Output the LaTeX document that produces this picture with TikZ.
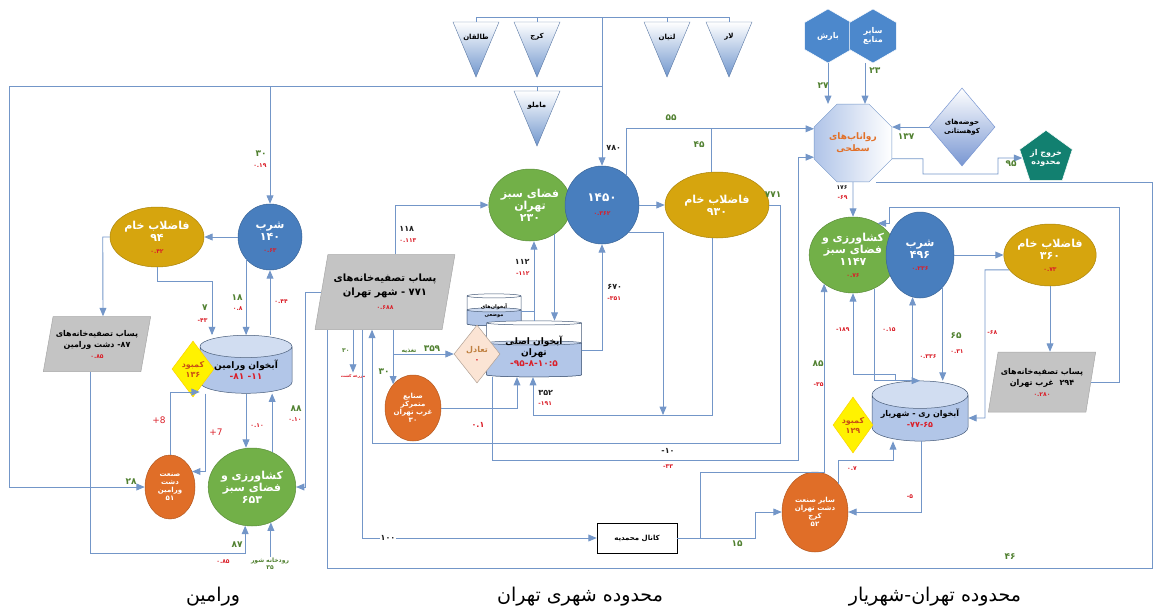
\documentclass[tikz,border=0pt]{standalone}
\usepackage{fontspec}
\setmainfont{DejaVu Sans}[Script=Arabic]
\usepackage{tikz}
\usetikzlibrary{shapes.geometric, arrows, positioning}
\TeXXeTstate=1
\newcommand{\fatxt}[1]{\beginR #1\endR}
\newcommand{\rv}[1]{{\color{numr}\fontsize{6}{7}\selectfont #1}}

\definecolor{lnc}{RGB}{115,150,200}
\definecolor{bluec}{RGB}{72,126,190}
\definecolor{greenc}{RGB}{114,176,72}
\definecolor{goldc}{RGB}{214,165,14}
\definecolor{orc}{RGB}{224,110,40}
\definecolor{grayc}{RGB}{196,196,196}
\definecolor{aqc}{RGB}{178,198,232}
\definecolor{tealc}{RGB}{18,128,112}
\definecolor{hexc}{RGB}{76,136,204}
\definecolor{tric}{RGB}{112,150,205}
\definecolor{octb}{RGB}{176,196,232}
\definecolor{dmc}{RGB}{120,150,210}
\definecolor{peach}{RGB}{251,228,212}
\definecolor{lackc}{RGB}{200,80,20}
\definecolor{octt}{RGB}{226,112,40}
\definecolor{numg}{RGB}{80,128,48}
\definecolor{numr}{RGB}{218,30,40}
\definecolor{numk}{RGB}{30,30,30}

\tikzset{
  bub/.style={ellipse, fill=#1, draw=#1!80!black, line width=0.5pt, text=white,
    align=center, inner sep=0pt, font=\fontsize{11}{12}\selectfont\bfseries},
  smallbub/.style={bub=#1, font=\fontsize{7}{8}\selectfont\bfseries},
  pbox/.style={trapezium, trapezium left angle=72, trapezium right angle=108,
    trapezium stretches=true, fill=grayc, draw=grayc!85!black, line width=0.5pt,
    text=black, align=center, inner sep=0pt, font=\fontsize{8}{11}\selectfont\bfseries},
  aqf/.style={cylinder, shape border rotate=90, aspect=0.35, draw=lnc!60!black,
    line width=0.5pt, cylinder uses custom fill, cylinder body fill=#1,
    cylinder end fill=#1!60!white, text=black, align=center, inner sep=0pt},
  lack/.style={diamond, fill=yellow, draw=yellow!70!orange, line width=0.5pt,
    text=lackc, align=center, inner sep=0pt, font=\fontsize{8}{10}\selectfont\bfseries},
  hexa/.style={regular polygon, regular polygon sides=6, shape border rotate=30,
    minimum size=54, fill=hexc, draw=white, line width=0.5pt, text=white,
    align=center, inner sep=0pt, font=\fontsize{8}{9}\selectfont\bfseries},
  srct/.style={text=black, inner sep=0pt, font=\fontsize{7}{8}\selectfont\bfseries},
  gn/.style={text=numg, inner sep=1pt, font=\fontsize{9}{9}\selectfont\bfseries},
  gns/.style={text=numg, inner sep=1pt, font=\fontsize{6}{7}\selectfont\bfseries},
  rd/.style={text=numr, inner sep=1pt, font=\fontsize{6}{6}\selectfont\bfseries},
  rdl/.style={text=numr, inner sep=1pt, font=\fontsize{9}{9}\selectfont},
  bk/.style={text=numk, inner sep=1pt, font=\fontsize{8}{8}\selectfont\bfseries},
  bks/.style={text=numk, inner sep=1pt, font=\fontsize{6}{6}\selectfont\bfseries},
  ttl/.style={text=black, font=\fontsize{19}{22}\selectfont}
}

\begin{document}
\begin{tikzpicture}[x=1pt, y=-1pt, ->, >=triangle 45, line width=0.9pt, lnc]
\useasboundingbox (0,0) rectangle (1156,613);

% sources
\foreach \n/\x/\y/\t in {tq/476/17/طالقان, kj/537/17/کرج, lt/667/17/لتیان, lr/729/17/لار, ml/537/86/ماملو}{
  \shade[-, top color=white, bottom color=tric, draw=tric!80!black, line width=0.4pt]
    (\x-23,\y+5) -- (\x+23,\y+5) -- (\x,\y+60) -- cycle;
  \node[srct] (\n) at (\x,\y+20) {\fatxt{\t}};
  \draw[-] (\x,\y) -- (\x,\y+5);
}
\coordinate (j1) at (602,17);
\coordinate (j2) at (602,86);
\coordinate (j3) at (270,86);

% varamin
\node[bub=bluec, minimum width=64, minimum height=66] (v1) at (270,237) {\fatxt{شرب}\\۱۴۰\\\rv{۰.۶۳}};
\node[bub=goldc, minimum width=94, minimum height=60] (v2) at (157,237) {\fatxt{فاضلاب خام}\\۹۴\\\rv{۰.۴۲}};
\node[pbox, minimum width=108, minimum height=55] (v3) at (97,344) {\fatxt{پساب تصفیه^^^^200cخانه^^^^200cهای}\\\fatxt{دشت ورامین} ۸۷-\\\rv{۰.۸۵}};
\node[aqf=aqc, minimum width=92, minimum height=58, font=\fontsize{9}{11}\selectfont\bfseries] (c1) at (246,370) {\fatxt{آبخوان ورامین}\\{\color{numr}\fatxt{۱۱- ۸۱-}}};
\node[lack, minimum width=42, minimum height=56] (d1) at (193,369) {\fatxt{کمبود}\\۱۳۶};
\node[smallbub=orc, minimum width=50, minimum height=64] (v4) at (170,487) {\fatxt{صنعت}\\\fatxt{دشت}\\\fatxt{ورامین}\\۵۱};
\node[bub=greenc, minimum width=76, minimum height=78] (v5) at (252,487) {\fatxt{کشاورزی و}\\\fatxt{فضای سبز}\\۶۵۳};
\node[gns, align=center] (rs) at (270,564) {\fatxt{رودخانه شور}\\۳۵};

% tehran
\node[pbox, minimum width=140, minimum height=75, font=\fontsize{10}{14}\selectfont\bfseries] (t1) at (385,292) {\fatxt{پساب تصفیه^^^^200cخانه^^^^200cهای}\\\fatxt{شهر تهران} - ۷۷۱\\\rv{۰.۶۸۸}};
\node[bub=greenc, minimum width=66, minimum height=72] (g1) at (530,205) {\fatxt{فضای سبز}\\\fatxt{تهران}\\۲۳۰};
\node[bub=bluec, minimum width=74, minimum height=78, font=\fontsize{12}{14}\selectfont\bfseries] (b1) at (602,205) {۱۴۵۰\\\rv{۰.۳۶۲}};
\node[bub=goldc, minimum width=104, minimum height=66] (w1) at (717,205) {\fatxt{فاضلاب خام}\\۹۳۰};
\node[aqf=white, aspect=0.6, minimum width=54, minimum height=32] (a2) at (494,311) {\phantom{X}};
\node[aqf=aqc, aspect=0.6, minimum width=54, minimum height=18] (a2w) at (494,318) {\phantom{X}};
\node[srct, align=center, font=\fontsize{5}{8}\selectfont\bfseries] (a2t) at (494,311) {\fatxt{آبخوان^^^^200cهای}\\\fatxt{موضعی}};
\node[aqf=white, aspect=0.6, minimum width=95, minimum height=56] (a1) at (534,350) {\phantom{X}};
\node[aqf=aqc, aspect=0.6, minimum width=95, minimum height=36] (a1w) at (534,360) {\phantom{X}};
\node[srct, align=center, font=\fontsize{9}{11}\selectfont\bfseries] (a1t) at (534,351) {\fatxt{آبخوان اصلی}\\\fatxt{تهران}\\{\color{numr}۹۵-۸-۱۰:۵-}};
\node[diamond, fill=peach, draw=peach!70!black, line width=0.5pt, text=brown, align=center, inner sep=0pt, minimum width=46, minimum height=58, font=\fontsize{8}{10}\selectfont\bfseries] (d2) at (477,354) {\fatxt{تعادل}\\{\color{numr}۰}};
\node[smallbub=orc, minimum width=56, minimum height=66] (s1) at (413,408) {\fatxt{صنایع}\\\fatxt{متمرکز}\\\fatxt{غرب تهران}\\۳۰};
\node[rd, font=\fontsize{4}{5}\selectfont\bfseries] (fm) at (353,376) {\fatxt{مزرعه کشت}};
\node[draw=black, fill=white, line width=0.6pt, text=black, minimum width=80, minimum height=30, font=\fontsize{7}{8}\selectfont\bfseries] (k1) at (637,538) {\fatxt{کانال محمدیه}};

% tehran-shahriar
\node[regular polygon, regular polygon sides=8, minimum size=84, left color=octb, right color=white, draw=lnc, line width=0.5pt, text=octt, align=center, inner sep=0pt, font=\fontsize{9}{12}\selectfont\bfseries] (o1) at (853,143) {\fatxt{رواناب^^^^200cهای}\\\fatxt{سطحی}};
\node[hexa] (h1) at (828,36) {\fatxt{بارش}};
\node[hexa] (h2) at (873,36) {\fatxt{سایر}\\\fatxt{منابع}};
\node[diamond, top color=white, bottom color=dmc, draw=dmc, line width=0.5pt, text=black, align=center, inner sep=0pt, minimum width=66, minimum height=78, font=\fontsize{7}{9}\selectfont\bfseries] (hx) at (962,127) {\fatxt{حوضه^^^^200cهای}\\\fatxt{کوهستانی}};
\node[regular polygon, regular polygon sides=5, minimum size=54, fill=tealc, draw=white, line width=0.5pt, text=white, align=center, inner sep=0pt, font=\fontsize{8}{9}\selectfont\bfseries] (pe) at (1046,158) {\fatxt{خروج از}\\\fatxt{محدوده}};
\node[bub=greenc, minimum width=74, minimum height=76] (r1) at (853,255) {\fatxt{کشاورزی و}\\\fatxt{فضای سبز}\\۱۱۴۷\\\rv{۰.۷۶}};
\node[bub=bluec, minimum width=68, minimum height=86] (r2) at (920,255) {\fatxt{شرب}\\۴۹۶\\\rv{۰.۲۳۶}};
\node[bub=goldc, minimum width=92, minimum height=62] (r3) at (1050,255) {\fatxt{فاضلاب خام}\\۳۶۰\\\rv{۰.۷۳}};
\node[pbox, minimum width=108, minimum height=60] (r5) at (1042,382) {\fatxt{پساب تصفیه^^^^200cخانه^^^^200cهای}\\\fatxt{غرب تهران}\ \ ۲۹۴\\\rv{۰.۲۸۰}};
\node[aqf=aqc, minimum width=96, minimum height=52, font=\fontsize{8}{11}\selectfont\bfseries] (c2) at (920,418) {\fatxt{آبخوان ری - شهریار}\\{\color{numr}۷۷-۶۵-}};
\node[lack, minimum width=40, minimum height=56] (d3) at (853,425) {\fatxt{کمبود}\\۱۲۹};
\node[smallbub=orc, minimum width=66, minimum height=80] (r4) at (815,512) {\fatxt{سایر صنعت}\\\fatxt{دشت تهران}\\\fatxt{کرج}\\۵۲};

% titles
\node[ttl] (n1) at (213,597) {\fatxt{ورامین}};
\node[ttl] (n2) at (580,597) {\fatxt{محدوده شهری تهران}};
\node[ttl] (n3) at (935,597) {\fatxt{محدوده تهران-شهریار}};

% connectors: sources
\draw[-] (tq.north |- j1) -- (lr.north |- j1);
\draw (j1) -- (b1);
\draw[-] (j2) -- (9,86) coordinate (j4);
\draw (j4) |- (v4.west);
\draw (j3) -- (v1);

% connectors: varamin
\draw (v1) -- (v2);
\draw (v2.west) -- ++(-7,0) -- (v3.north -| 103,0);
\draw (v2.south) -- ++(0,14) -| (c1.north -| 212,0);
\draw (v1.-137) -- (v1.-137 |- c1.north);
\draw (c1.north -| v1.south) -- (v1.south);
\draw (v3.south -| 90,0) -- (90,553) -| (v5.-100);
\draw (v4.north) |- (c1.west |- 0,392);
\draw (c1.south -| 205,0) |- (v4.35);
\draw (c1.south) -- (c1.south |- v5.north);
\draw (v5.60) -- (v5.60 |- c1.south);
\draw (v5.-62 |- rs.north) -- (v5.-62);
\draw (t1.west) -- (t1.west -| 305,0) |- (v5.east);

% connectors: tehran
\coordinate (jw) at (663,415);
\draw (t1.north -| 395,0) |- (g1.west);
\draw (b1) -- (w1);
\draw (b1.50) |- (o1.160);
\draw[-] (w1.100) -- (w1.100 |- o1.160);
\draw (w1.east) -| (780,443) -| (t1.south -| 372,0);
\draw (a1.south -| 492,0) |- (798,460) |- (o1.200);
\draw (s1.130 |- t1.south) -- (s1.130);
\draw (s1.130 |- d2.west) -- (d2.west);
\draw (fm.north |- t1.south) -- (fm.north);
\draw (t1.south -| 362,0) |- (k1.west);
\draw[-] (t1.south -| 327,0) |- (1152,568) |- (o1.south -| 876,0);
\draw (a1.north) -- (a1.north |- g1.south);
\draw[-] (a2.east) -| (a1.north);
\draw (a1.east) -| (b1.south);
\draw (g1.-50) -- (g1.-50 |- a1.north);
\draw (s1.east) -| (a1.south -| 517,0);
\draw (w1.-97) |- (533,415) -- (a1.south -| 533,0);
\draw (b1.-45) -| (jw);
\draw (k1.east) -| (755,512) -- (r4.west);
\draw (k1.east -| 700,0) |- (r1.225 |- 0,472) -- (r1.225);

% connectors: tehran-shahriar
\draw (h1.south) -- (h1.south |- o1.north);
\draw (h2.south -| 865,0) -- (o1.north -| 865,0);
\draw (hx.west) -- (hx.west -| o1.east);
\draw (o1.-22) -| (923,174) -| (998,158) -- (pe.west);
\draw (o1.south) -- (r1.north);
\draw (r2) -- (r3);
\draw (r3.south) -- (r3.south |- r5.north);
\draw (r5.east) -| (1119,207) -| (r1.52 -| 889,0) -- (r1.52);
\draw (r2.-100 |- c2.north) -- (r2.-100);
\draw (r2.-55) -- (r2.-55 |- c2.north);
\draw (r1.-58) |- (c2.north);
\draw (c2.north -| 895,0) -- ++(0,-6) -| (r1.south);
\draw (c2.south -| 921,0) |- (r4.east);
\draw (r4.50) |- (893,460) -- (c2.south -| 893,0);
\draw (r3.200) -| (985,418) -- (c2.east);

% labels: varamin
\node[gn, anchor=east] (l1) at (268,154) {۳۰};
\node[rd, anchor=east] (l2) at (268,166) {۰.۱۹};
\node[gn, anchor=east] (l3) at (209,308) {۷};
\node[rd, anchor=east] (l4) at (209,321) {۴۳-};
\node[gn, anchor=east] (l5) at (244,298) {۱۸};
\node[rd, anchor=east] (l6) at (244,309) {۰.۸};
\node[rd, anchor=west] (l7) at (273,302) {۰.۴۴};
\node[rdl, anchor=east] (l8) at (167,420) {8+};
\node[rdl, anchor=west] (l9) at (208,432) {7+};
\node[rd, anchor=west] (l10) at (249,426) {۰.۱۰};
\node[gn, anchor=east] (l11) at (303,409) {۸۸};
\node[rd, anchor=east] (l12) at (303,420) {۰.۱۰};
\node[gn, anchor=south east] (l13) at (138,486) {۲۸};
\node[gn, anchor=east] (l14) at (244,545) {۸۷};
\node[rd] (l15) at (223,562) {۰.۸۵};

% labels: tehran
\node[bk, anchor=west] (m1) at (605,148) {۷۸۰};
\node[bk, anchor=west] (m2) at (398,229) {۱۱۸};
\node[rd, anchor=west] (m3) at (398,241) {۰.۱۱۳};
\node[bk, anchor=east] (m4) at (531,262) {۱۱۲};
\node[rd, anchor=east] (m5) at (531,274) {۱۱۲-};
\node[bk, anchor=west] (m6) at (606,287) {۶۷۰};
\node[rd, anchor=west] (m7) at (606,299) {۳۵۱-};
\node[gn] (m8) at (432,349) {۳۵۹};
\node[gns] (m9) at (409,351) {\fatxt{تغذیه}};
\node[gn, anchor=east] (m10) at (391,372) {۳۰};
\node[gns, anchor=east] (m11) at (351,351) {۳۰};
\node[rd, font=\fontsize{8}{8}\selectfont\bfseries] (m12) at (478,425) {۰.۱};
\node[bk, anchor=west] (m13) at (537,393) {۳۵۲};
\node[rd, anchor=west] (m14) at (537,404) {۱۹۱-};
\node[bk] (m15) at (668,451) {۱۰-};
\node[rd] (m16) at (668,467) {۳۳-};
\node[bk, fill=white] (m17) at (388,538) {۱۰۰};
\node[gn] (m18) at (671,118) {۵۵};
\node[gn, anchor=east] (m19) at (706,145) {۴۵};
\node[gn] (m20) at (773,195) {۷۷۱};
\node[gn] (m21) at (737,544) {۱۵};
\node[gn] (m22) at (1010,557) {۴۶};

% labels: tehran-shahriar
\node[gn, anchor=east] (q1) at (830,86) {۲۷};
\node[gn, anchor=west] (q2) at (868,71) {۲۳};
\node[gn] (q3) at (906,137) {۱۳۷};
\node[gn] (q4) at (1011,164) {۹۵};
\node[bks, anchor=east] (q5) at (849,188) {۱۷۶};
\node[rd, anchor=east] (q6) at (849,198) {۶۹-};
\node[rd, anchor=east] (q7) at (851,330) {۱۸۹-};
\node[rd] (q8) at (889,330) {۰.۱۵};
\node[rd] (q9) at (928,357) {۰.۳۳۶};
\node[gn] (q10) at (956,336) {۶۵};
\node[rd] (q11) at (957,352) {۰.۳۱};
\node[rd, anchor=west] (q12) at (986,333) {۶۸-};
\node[gn, anchor=east] (q13) at (825,364) {۸۵};
\node[rd, anchor=east] (q14) at (825,385) {۳۵-};
\node[rd] (q15) at (852,469) {۰.۷};
\node[rd] (q16) at (910,497) {۵-};
\end{tikzpicture}
\end{document}
